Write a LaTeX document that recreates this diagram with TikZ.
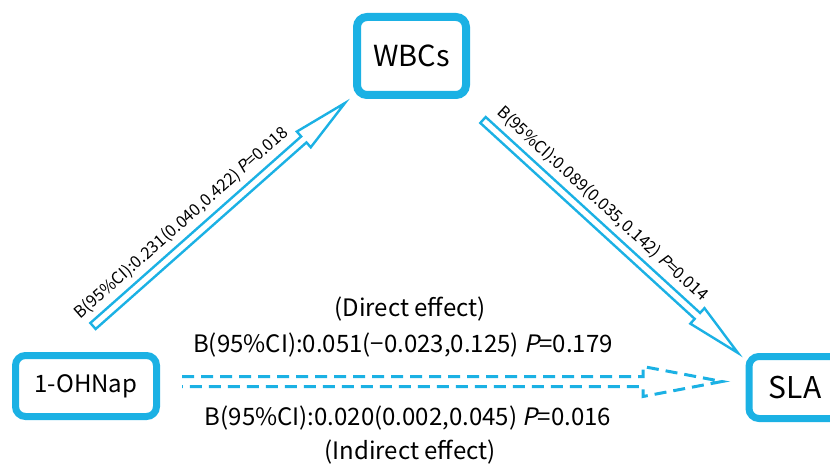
\documentclass[tikz,border=0pt]{standalone}
\usepackage{fontspec}
\setmainfont{Noto Sans CJK SC}[ItalicFont={Noto Sans CJK SC}, ItalicFeatures={FakeSlant=0.2}]
\usetikzlibrary{calc}
\definecolor{boxblue}{RGB}{27,177,228}

\tikzset{
  box/.style={draw=boxblue, line width=7pt, rounded corners=10pt, fill=white, inner sep=0pt,
    font=\fontsize{24}{28}\selectfont},
  arrowline/.style={draw=boxblue, line width=2.4pt, line join=miter},
  dasharrow/.style={draw=boxblue, line width=3pt, dash pattern=on 12pt off 7pt},
  pathlabel/.style={font=\fontsize{16.5}{18}\selectfont, sloped, inner sep=1pt},
  midtext/.style={font=\fontsize{24}{28}\selectfont, inner sep=0pt},
}

% hollow block arrow: style, tail, tip, shaft half width, head half width, head length, end
\newcommand{\blockarrow}[7]{%
  \coordinate (#3hb) at ($(#3)!#6!(#2)$);
  \draw[#1] ($(#2)!#4!90:(#3)$) -- ($(#3hb)!#4!90:(#3)$) -- ($(#3hb)!#5!90:(#3)$) -- (#3)
    -- ($(#3hb)!#5!-90:(#3)$) -- ($(#3hb)!#4!-90:(#3)$) -- ($(#2)!#4!-90:(#3)$) #7;}

\begin{document}
\begin{tikzpicture}[x=1pt,y=-1pt]
\useasboundingbox (0,0) rectangle (830,465);
\clip (0,0) rectangle (830,465);

% variables
\node[box, line width=8pt, minimum width=109, minimum height=78, font=\fontsize{29}{32}\selectfont] (wbc) at (411.5,56) {WBCs};
\node[box, minimum width=141, minimum height=61] (ohnap) at (86,386) {1-OHNap};
\node[box, minimum width=92, minimum height=62, font=\fontsize{30}{34}\selectfont] (sla) at (795,387.5) {SLA};

% arrow ends
\coordinate (wtail) at (93,326);
\coordinate (wtip) at (345,103);
\coordinate (stail) at (483,120);
\coordinate (stip) at (738,353);
\coordinate (dtail) at (182,381.5);
\coordinate (dtip) at (722,381.5);

% paths a and b
\blockarrow{arrowline}{wtail}{wtip}{4pt}{10.5pt}{55pt}{-- cycle}
\blockarrow{arrowline}{stail}{stip}{4pt}{10.5pt}{55pt}{-- cycle}
\path (wtail) -- (wtip) node[pathlabel, pos=0.40, above=9pt] {B(95\%CI):0.231(0.040,0.422) \textit{P}=0.018};
\path (stail) -- (stip) node[pathlabel, pos=0.42, above=9pt] {B(95\%CI):0.089(0.035,0.142) \textit{P}=0.014};

% path c
\blockarrow{dasharrow}{dtail}{dtip}{5pt}{15pt}{79pt}{}

\node[midtext] (dlabel) at (410,309) {(Direct effect)};
\node[midtext] (dstat) at (403,345) {B(95\%CI):0.051(−0.023,0.125) \textit{P}=0.179};
\node[midtext] (istat) at (408,418) {B(95\%CI):0.020(0.002,0.045) \textit{P}=0.016};
\node[midtext] (ilabel) at (410,452) {(Indirect effect)};
\end{tikzpicture}
\end{document}
